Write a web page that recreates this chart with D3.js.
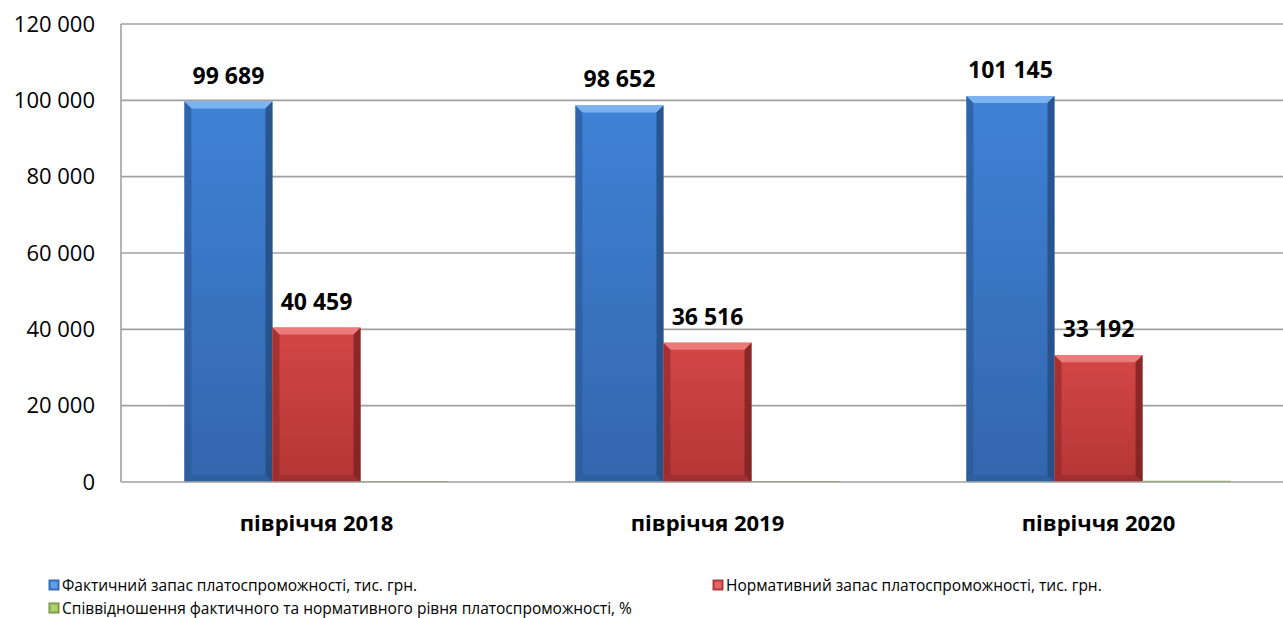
<!DOCTYPE html>
<html>
<head>
<meta charset="utf-8">
<script src="https://cdn.jsdelivr.net/npm/d3@7"></script>
<style>
  body { margin: 0; background: #fff; }
  svg { display: block; }
</style>
</head>
<body>
<div class="chart"></div>
<script>
// chart data
var categories = ["півріччя 2018", "півріччя 2019", "півріччя 2020"];
var seriesNames = [
  "Фактичний запас платоспроможності, тис. грн.",
  "Нормативний запас платоспроможності, тис. грн.",
  "Співвідношення фактичного та нормативного рівня платоспроможності, %"
];
var actualReserve = [99689, 98652, 101145];
var normativeReserve = [40459, 36516, 33192];
var ratioPercent = [246, 270, 305];
var yTicks = [0, 20000, 40000, 60000, 80000, 100000, 120000];

var svgWidth = 1283;
var svgHeight = 618;

var margin = { top: 24, left: 121 };
var plotWidth = 1173;   // runs slightly past the right edge, like the original
var plotHeight = 458;

var svg = d3.select(".chart")
  .append("svg")
  .attr("width", svgWidth)
  .attr("height", svgHeight);

var defs = svg.append("defs");

var palette = [
  { top: "#3f82d6", bottom: "#3366ad", light: "#7ab3ef", side: "#2c5a97", dark: "#244b80" },
  { top: "#d44646", bottom: "#b43636", light: "#ec7a7a", side: "#952a2a", dark: "#7a2020" },
  { top: "#9bbb59", bottom: "#7f9c40", light: "#c3dc8a", side: "#6a8535", dark: "#56702a" }
];

palette.forEach(function(p, i) {
  var g = defs.append("linearGradient")
    .attr("id", "body" + i)
    .attr("x1", 0).attr("y1", 0).attr("x2", 0).attr("y2", 1);
  g.append("stop").attr("offset", "0%").attr("stop-color", p.top);
  g.append("stop").attr("offset", "100%").attr("stop-color", p.bottom);
});

var chartGroup = svg.append("g")
  .attr("transform", `translate(${margin.left}, ${margin.top})`);

// scales
var x0 = d3.scaleBand()
  .domain(categories)
  .range([0, plotWidth]);

var x1 = d3.scaleBand()
  .domain([0, 1, 2])
  .range([0, x0.bandwidth()])
  .paddingOuter(0.72)
  .paddingInner(0);

var yScale = d3.scaleLinear()
  .domain([0, 120000])
  .range([plotHeight, 0]);

// gridlines
chartGroup.append("g")
  .selectAll("line")
  .data(yTicks.filter(d => d > 0))
  .enter()
  .append("line")
  .attr("x1", 0)
  .attr("x2", plotWidth)
  .attr("y1", d => yScale(d))
  .attr("y2", d => yScale(d))
  .attr("stroke", "#a0a0a0")
  .attr("stroke-width", 1.6);

// y axis labels
var yAxis = d3.axisLeft(yScale)
  .tickValues(yTicks)
  .tickSize(0)
  .tickPadding(26)
  .tickFormat(d => d3.format(",")(d).replace(/,/g, " "));

var yAxisGroup = chartGroup.append("g").call(yAxis);
yAxisGroup.select(".domain").remove();
yAxisGroup.selectAll("text")
  .attr("font-family", "'Open Sans', sans-serif")
  .attr("font-size", "22px")
  .attr("fill", "#000");

// bars
var seriesData = [actualReserve, normativeReserve, ratioPercent];
var bevel = 7;

categories.forEach(function(cat, ci) {
  seriesData.forEach(function(values, si) {
    var p = palette[si];
    var bx = x0(cat) + x1(si);
    var bw = x1.bandwidth();
    var by = yScale(values[ci]);
    var bh = plotHeight - by;
    var b = Math.min(bevel, bh / 2, bw / 2);
    var g = chartGroup.append("g");

    g.append("rect")
      .attr("x", bx)
      .attr("y", by)
      .attr("width", bw)
      .attr("height", bh)
      .attr("fill", `url(#body${si})`);

    // top bevel
    g.append("path")
      .attr("d", `M${bx},${by}L${bx + bw},${by}L${bx + bw - b},${by + b}L${bx + b},${by + b}Z`)
      .attr("fill", p.light);
    // left bevel
    g.append("path")
      .attr("d", `M${bx},${by}L${bx + b},${by + b}L${bx + b},${by + bh - b}L${bx},${by + bh}Z`)
      .attr("fill", p.side)
      .attr("opacity", 0.7);
    // right bevel
    g.append("path")
      .attr("d", `M${bx + bw},${by}L${bx + bw - b},${by + b}L${bx + bw - b},${by + bh - b}L${bx + bw},${by + bh}Z`)
      .attr("fill", p.dark)
      .attr("opacity", 0.8);
    // bottom bevel
    g.append("path")
      .attr("d", `M${bx},${by + bh}L${bx + b},${by + bh - b}L${bx + bw - b},${by + bh - b}L${bx + bw},${by + bh}Z`)
      .attr("fill", p.side)
      .attr("opacity", 0.6);

    // value labels for the two reserve series
    if (si < 2) {
      chartGroup.append("text")
        .attr("x", bx + bw / 2)
        .attr("y", by - 18)
        .attr("text-anchor", "middle")
        .attr("font-family", "'Open Sans', sans-serif")
        .attr("font-weight", "bold")
        .attr("font-size", "23px")
        .attr("fill", "#000")
        .text(d3.format(",")(values[ci]).replace(/,/g, " "));
    }
  });
});

// axis lines
chartGroup.append("line")
  .attr("x1", 0).attr("x2", 0)
  .attr("y1", 0).attr("y2", plotHeight)
  .attr("stroke", "#a0a0a0")
  .attr("stroke-width", 1.6);
chartGroup.append("line")
  .attr("x1", 0).attr("x2", plotWidth)
  .attr("y1", plotHeight).attr("y2", plotHeight)
  .attr("stroke", "#a0a0a0")
  .attr("stroke-width", 1.6);

// category labels
chartGroup.selectAll(".cat")
  .data(categories)
  .enter()
  .append("text")
  .attr("class", "cat")
  .attr("x", d => x0(d) + x0.bandwidth() / 2)
  .attr("y", plotHeight + 49)
  .attr("text-anchor", "middle")
  .attr("font-family", "'Open Sans', sans-serif")
  .attr("font-weight", "bold")
  .attr("font-size", "22px")
  .attr("fill", "#000")
  .text(d => d);

// legend
var legendPos = [
  { x: 49, y: 585 },
  { x: 713, y: 585 },
  { x: 49, y: 608 }
];

var legend = svg.append("g");
seriesNames.forEach(function(name, i) {
  var p = palette[i];
  var lp = legendPos[i];
  legend.append("rect")
    .attr("x", lp.x)
    .attr("y", lp.y - 5)
    .attr("width", 10)
    .attr("height", 10)
    .attr("fill", p.top)
    .attr("stroke", p.dark)
    .attr("stroke-width", 0.8);
  legend.append("rect")
    .attr("x", lp.x + 2)
    .attr("y", lp.y - 3)
    .attr("width", 6)
    .attr("height", 6)
    .attr("fill", p.light)
    .attr("opacity", 0.6);
  legend.append("text")
    .attr("x", lp.x + 13)
    .attr("y", lp.y + 5.5)
    .attr("font-family", "'Open Sans', sans-serif")
    .attr("font-size", "15.5px")
    .attr("fill", "#000")
    .text(name);
});
</script>
</body>
</html>
